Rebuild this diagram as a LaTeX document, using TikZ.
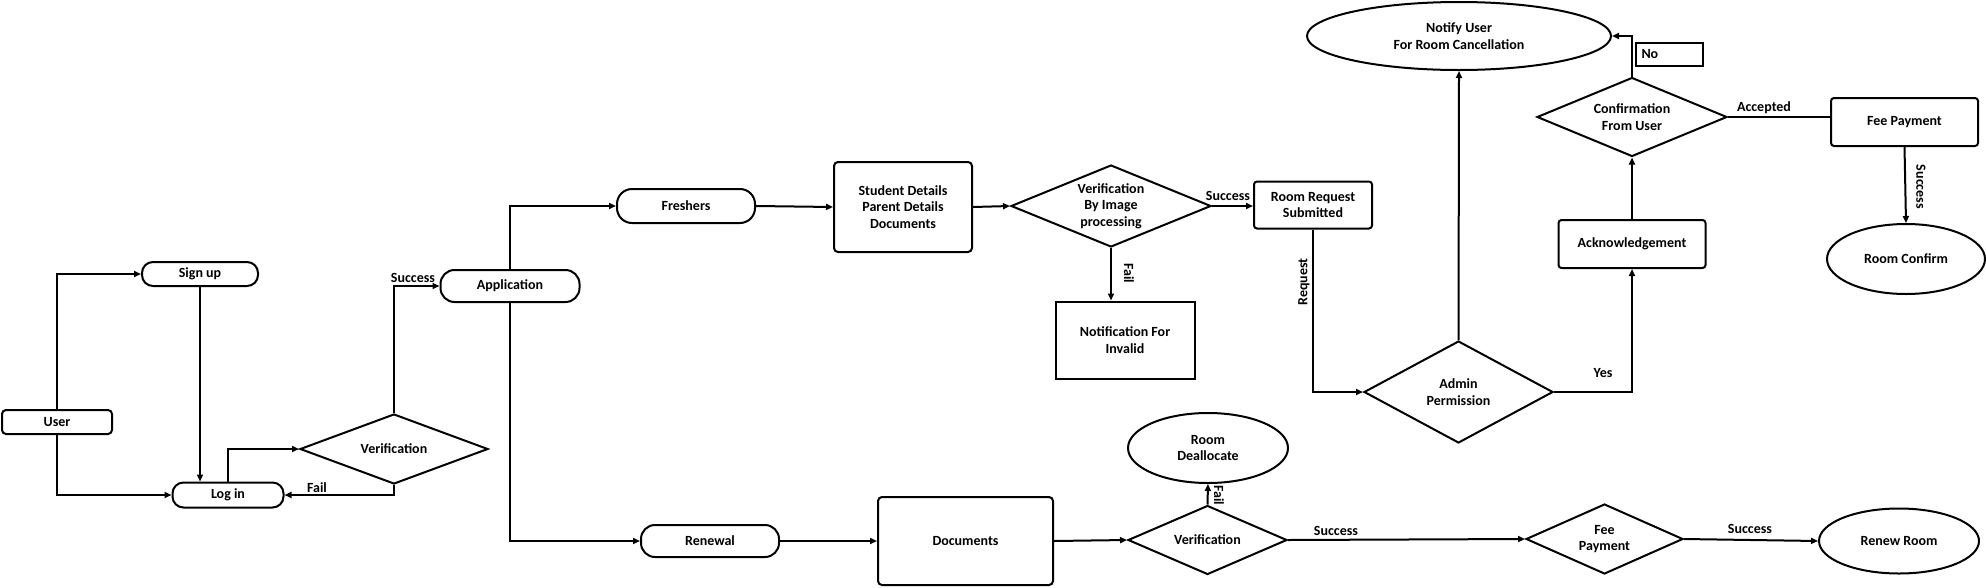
\documentclass[tikz,border=0pt]{standalone}
\usepackage{fontspec}
\setmainfont{Carlito}
\usetikzlibrary{shapes.geometric,arrows.meta}
\begin{document}
\begin{tikzpicture}[x=1pt,y=-1pt,
  every node/.style={font=\bfseries\fontsize{14}{16.5}\selectfont, align=center, inner sep=0pt},
  box/.style={draw, line width=2pt, rounded corners=4pt},
  sharpbox/.style={draw, line width=2pt},
  pill/.style={draw, line width=2pt, rounded corners=11pt},
  dia/.style={draw, line width=2pt, diamond},
  ell/.style={draw, line width=2pt, ellipse},
  arr/.style={line width=2pt, -{Triangle[length=7pt,width=6pt]}},
  ln/.style={line width=2pt},
  lab/.style={font=\bfseries\fontsize{14}{16.5}\selectfont}
]
\useasboundingbox (0,0) rectangle (1986,587);

% nodes
\node[box, minimum width=110, minimum height=24] (user) at (57,422) {User};
\node[pill, minimum width=116, minimum height=24] (signup) at (200,274) {Sign up};
\node[pill, minimum width=111, minimum height=25] (login) at (228,495) {Log in};
\node[dia, minimum width=188, minimum height=70, aspect=2.7] (ver1) at (394,449) {Verification};
\node[pill, minimum width=139, minimum height=32, rounded corners=14pt] (app) at (510,286) {Application};
\node[pill, minimum width=138, minimum height=34, rounded corners=15pt] (fresh) at (686,206) {Freshers};
\node[box, minimum width=138, minimum height=90] (stud) at (903,207) {Student Details\\Parent Details\\Documents};
\node[dia, minimum width=200, minimum height=82, aspect=2.44] (verimg) at (1111,206) {Verification\\By Image\\processing};
\node[box, minimum width=118, minimum height=47, rounded corners=3pt] (rrs) at (1313,205) {Room Request\\Submitted};
\node[sharpbox, minimum width=139, minimum height=77] (notinv) at (1125,340) {Notification For\\Invalid};
\node[dia, minimum width=189, minimum height=102, aspect=1.85] (admin) at (1458.5,392) {Admin\\Permission};
\node[ell, minimum width=304, minimum height=68] (notify) at (1459,36) {Notify User\\For Room Cancellation};
\node[box, minimum width=147, minimum height=48, rounded corners=3pt] (ack) at (1632,244) {Acknowledgement};
\node[dia, minimum width=190, minimum height=79, aspect=2.4] (conf) at (1632,117) {Confirmation\\From User};
\node[sharpbox, minimum width=67, minimum height=23, text width=55pt, align=left] (nobox) at (1669,54) {No};
\node[box, minimum width=147, minimum height=48, rounded corners=3pt] (fee) at (1904.5,122) {Fee Payment};
\node[ell, minimum width=158, minimum height=70] (roomconf) at (1906,259) {Room Confirm};
\node[pill, minimum width=138, minimum height=32, rounded corners=14pt] (renewal) at (710,541) {Renewal};
\node[box, minimum width=175, minimum height=88] (docs) at (965.5,541) {Documents};
\node[dia, minimum width=159, minimum height=69, aspect=2.3] (ver2) at (1207.5,540) {Verification};
\node[ell, minimum width=160, minimum height=70] (dealloc) at (1208,448) {Room\\Deallocate};
\node[dia, minimum width=157, minimum height=70, aspect=2.24] (feepay) at (1604.5,539) {Fee\\Payment};
\node[ell, minimum width=160, minimum height=65] (renew) at (1899,541) {Renew Room};

% connectors
\draw[arr] (user.north) |- (signup.west);
\draw[arr] (user.south) |- (login.west);
\draw[arr] (signup.south) -- (signup.south |- login.north);
\draw[arr] (login.north) |- (ver1.west);
\draw[arr] (ver1.south) |- (login.east);
\draw[arr] (ver1.north) |- (app.west);
\draw[arr] (app.north) |- (fresh.west);
\draw[arr] (app.south) |- (renewal.west);
\draw[arr] (fresh.east) -- (stud.west);
\draw[arr] (stud.east) -- (verimg.west);
\draw[arr] (verimg.east) -- (rrs.west |- verimg.east);
\draw[arr] (verimg.south) -- (verimg.south |- notinv.north);
\draw[arr] (rrs.south) |- (admin.west);
\draw[arr] (admin.north) -- (notify.south);
\draw[arr] (admin.east) -| (ack.south);
\draw[arr] (ack.north) -- (conf.south);
\draw[arr] (conf.north) |- (notify.east);
\draw[ln] (conf.east) -- (fee.west |- conf.east);
\draw[arr] (fee.south) -- (roomconf.north);
\draw[arr] (renewal.east) -- (docs.west);
\draw[arr] (docs.east) -- (ver2.west);
\draw[arr] (ver2.north) -- (dealloc.south);
\draw[arr] (ver2.east) -- (feepay.west);
\draw[arr] (feepay.east) -- (renew.west);

% labels
\node[lab] (lfail1) at (317,488) {Fail};
\node[lab] (lsucc1) at (413,278) {Success};
\node[lab] (lsucc2) at (1228,196) {Success};
\node[lab, rotate=-90] (lfail2) at (1129,273) {Fail};
\node[lab, rotate=90] (lreq) at (1304,282) {Request};
\node[lab] (lyes) at (1603,373) {Yes};
\node[lab] (lacc) at (1764,108) {Accepted};
\node[lab, rotate=-90] (lsucc3) at (1921,187) {Success};
\node[lab, rotate=-90] (lfail3) at (1219,495) {Fail};
\node[lab] (lsucc4) at (1336,531) {Success};
\node[lab] (lsucc5) at (1750,529) {Success};
\end{tikzpicture}
\end{document}
